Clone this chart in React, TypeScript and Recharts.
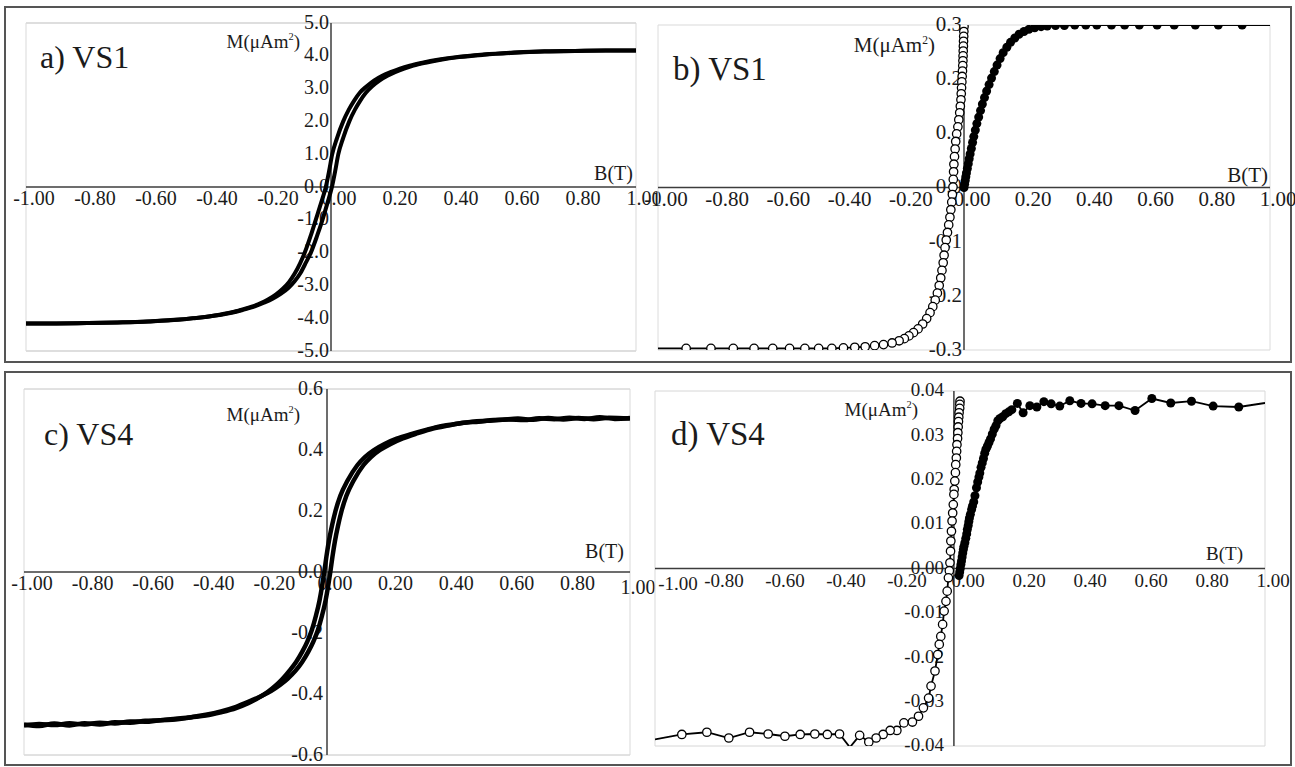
import React from "react";
import { ComposedChart, Scatter, XAxis, YAxis, CartesianGrid, ReferenceLine, ReferenceDot } from "recharts";

type P = [number, number];

const FONT = '"Liberation Serif", "Times New Roman", serif';
const INK = "#1b1b1b";
const AXIS = "#3c3c3c";

const xTicks = [-1, -0.8, -0.6, -0.4, -0.2, 0, 0.2, 0.4, 0.6, 0.8, 1];
const aTicks = [-5, -4, -3, -2, -1, 0, 1, 2, 3, 4, 5];
const bTicks = [-0.3, -0.2, -0.1, 0, 0.1, 0.2, 0.3];
const cTicks = [-0.6, -0.4, -0.2, 0, 0.2, 0.4, 0.6];
const dTicks = [-0.04, -0.03, -0.02, -0.01, 0, 0.01, 0.02, 0.03, 0.04];

// a) VS1 : [B (T), M (µAm²)]  ascending / descending branch
const aUp: P[] = [
  [-1.0, -4.16], [-0.9, -4.16], [-0.8, -4.15], [-0.7, -4.13], [-0.6, -4.1], [-0.5, -4.04], [-0.44, -3.99],
  [-0.38, -3.92], [-0.33, -3.84], [-0.29, -3.75], [-0.25, -3.64], [-0.22, -3.53], [-0.19, -3.4], [-0.165, -3.26],
  [-0.14, -3.08], [-0.12, -2.88], [-0.1, -2.62], [-0.082, -2.3], [-0.066, -2.0], [-0.046, -1.5], [-0.028, -1.0],
  [-0.012, -0.5], [0.003, 0.0], [0.014, 0.5], [0.024, 1.0], [0.04, 1.5], [0.06, 2.0], [0.078, 2.35], [0.095, 2.62],
  [0.115, 2.88], [0.135, 3.07], [0.16, 3.25], [0.185, 3.39], [0.21, 3.5], [0.24, 3.61], [0.27, 3.7], [0.31, 3.79],
  [0.36, 3.88], [0.42, 3.96], [0.5, 4.03], [0.6, 4.09], [0.7, 4.13], [0.8, 4.15], [0.9, 4.16], [1.0, 4.16],
];
const aDown: P[] = [
  [-1.0, -4.16], [-0.9, -4.16], [-0.8, -4.15], [-0.7, -4.13], [-0.6, -4.1], [-0.5, -4.05], [-0.45, -4.0],
  [-0.39, -3.93], [-0.34, -3.85], [-0.3, -3.76], [-0.26, -3.65], [-0.23, -3.54], [-0.205, -3.42], [-0.18, -3.27],
  [-0.158, -3.1], [-0.138, -2.9], [-0.119, -2.64], [-0.101, -2.32], [-0.086, -2.0], [-0.067, -1.5], [-0.05, -1.0],
  [-0.033, -0.5], [-0.017, 0.0], [-0.006, 0.5], [0.004, 1.0], [0.02, 1.5], [0.04, 2.0], [0.058, 2.35], [0.075, 2.62],
  [0.095, 2.88], [0.117, 3.07], [0.142, 3.25], [0.168, 3.39], [0.195, 3.5], [0.226, 3.61], [0.258, 3.7], [0.3, 3.79],
  [0.35, 3.88], [0.41, 3.96], [0.5, 4.04], [0.6, 4.1], [0.7, 4.14], [0.8, 4.15], [0.9, 4.16], [1.0, 4.16],
];

// b) VS1 : filled markers (B >= 0) and open markers (B <= 0)
const bFilled: P[] = [
  [0.0, 0.0], [0.002, 0.006], [0.004, 0.013], [0.006, 0.02], [0.008, 0.027], [0.011, 0.035], [0.014, 0.044],
  [0.017, 0.053], [0.02, 0.062], [0.024, 0.072], [0.028, 0.083], [0.032, 0.094], [0.037, 0.106], [0.042, 0.118],
  [0.048, 0.13], [0.054, 0.142], [0.06, 0.154], [0.067, 0.166], [0.074, 0.178], [0.082, 0.19], [0.09, 0.202],
  [0.099, 0.214], [0.108, 0.226], [0.118, 0.238], [0.128, 0.249], [0.14, 0.259], [0.152, 0.268], [0.166, 0.276],
  [0.18, 0.283], [0.196, 0.288], [0.212, 0.292], [0.231, 0.295], [0.252, 0.297], [0.272, 0.298], [0.299, 0.299],
  [0.328, 0.299], [0.362, 0.3], [0.398, 0.3], [0.434, 0.3], [0.482, 0.3], [0.525, 0.3], [0.573, 0.3],
  [0.631, 0.3], [0.687, 0.3], [0.756, 0.3], [0.831, 0.3], [0.909, 0.3],
];
const bFilledEnd: P[] = [[1.0, 0.3]];
const bOpen: P[] = [
  [0.0, 0.297], [-0.0005, 0.288], [-0.001, 0.279], [-0.0015, 0.27], [-0.002, 0.261], [-0.0025, 0.252],
  [-0.003, 0.243], [-0.0035, 0.234], [-0.004, 0.225], [-0.005, 0.215], [-0.006, 0.205], [-0.007, 0.195],
  [-0.008, 0.184], [-0.009, 0.173], [-0.01, 0.162], [-0.012, 0.15], [-0.014, 0.138], [-0.017, 0.125],
  [-0.02, 0.112], [-0.024, 0.099], [-0.027, 0.085], [-0.029, 0.071], [-0.031, 0.057], [-0.033, 0.043],
  [-0.034, 0.029], [-0.035, 0.015], [-0.036, 0.001], [-0.038, -0.013], [-0.04, -0.027], [-0.043, -0.041],
  [-0.046, -0.055], [-0.05, -0.069], [-0.054, -0.083], [-0.058, -0.097], [-0.062, -0.111], [-0.065, -0.125],
  [-0.068, -0.139], [-0.072, -0.153], [-0.076, -0.167], [-0.081, -0.181], [-0.087, -0.195], [-0.094, -0.208],
  [-0.102, -0.22], [-0.111, -0.231], [-0.122, -0.242], [-0.135, -0.252], [-0.15, -0.261], [-0.165, -0.268],
  [-0.18, -0.274], [-0.195, -0.279], [-0.212, -0.283], [-0.235, -0.287], [-0.263, -0.29], [-0.292, -0.292],
  [-0.323, -0.294], [-0.357, -0.295], [-0.394, -0.296], [-0.432, -0.297], [-0.475, -0.297], [-0.52, -0.297],
  [-0.57, -0.297], [-0.625, -0.297], [-0.686, -0.297], [-0.754, -0.297], [-0.827, -0.297], [-0.908, -0.297],
];
const bOpenEnd: P[] = [[-1.0, -0.297]];

// c) VS4 : ascending / descending branch
const cUp: P[] = [
  [-1.0, -0.5], [-0.95, -0.505], [-0.9, -0.497], [-0.85, -0.503], [-0.8, -0.496], [-0.75, -0.5], [-0.7, -0.493],
  [-0.65, -0.494], [-0.6, -0.488], [-0.55, -0.486], [-0.5, -0.481], [-0.45, -0.476], [-0.4, -0.468], [-0.35, -0.457],
  [-0.3, -0.442], [-0.26, -0.426], [-0.22, -0.408], [-0.185, -0.39], [-0.155, -0.37], [-0.13, -0.35],
  [-0.105, -0.325], [-0.082, -0.295], [-0.062, -0.262], [-0.045, -0.228], [-0.03, -0.19], [-0.017, -0.145],
  [-0.005, -0.095], [0.004, -0.045], [0.011, 0.0], [0.018, 0.05], [0.026, 0.1], [0.036, 0.15], [0.048, 0.2],
  [0.064, 0.25], [0.088, 0.3], [0.12, 0.35], [0.145, 0.377], [0.175, 0.4], [0.21, 0.42], [0.25, 0.438],
  [0.3, 0.455], [0.35, 0.47], [0.4, 0.48], [0.45, 0.489], [0.5, 0.493], [0.55, 0.498], [0.6, 0.5],
  [0.65, 0.498], [0.7, 0.504], [0.75, 0.501], [0.8, 0.506], [0.85, 0.502], [0.9, 0.507], [0.95, 0.502], [1.0, 0.505],
];
const cDown: P[] = [
  [-1.0, -0.503], [-0.95, -0.498], [-0.9, -0.502], [-0.85, -0.496], [-0.8, -0.5], [-0.75, -0.494], [-0.7, -0.497],
  [-0.65, -0.49], [-0.6, -0.491], [-0.55, -0.486], [-0.5, -0.484], [-0.45, -0.477], [-0.4, -0.471], [-0.35, -0.46],
  [-0.3, -0.446], [-0.26, -0.43], [-0.225, -0.412], [-0.195, -0.393], [-0.17, -0.373], [-0.148, -0.352],
  [-0.125, -0.325], [-0.102, -0.295], [-0.082, -0.262], [-0.065, -0.228], [-0.05, -0.19], [-0.037, -0.145],
  [-0.025, -0.095], [-0.016, -0.045], [-0.009, 0.0], [-0.002, 0.05], [0.006, 0.1], [0.016, 0.15], [0.028, 0.2],
  [0.044, 0.25], [0.068, 0.3], [0.1, 0.35], [0.125, 0.377], [0.155, 0.4], [0.19, 0.42], [0.23, 0.437],
  [0.28, 0.453], [0.33, 0.467], [0.38, 0.479], [0.43, 0.486], [0.48, 0.493], [0.53, 0.496], [0.58, 0.499],
  [0.63, 0.503], [0.68, 0.499], [0.73, 0.505], [0.78, 0.5], [0.83, 0.505], [0.88, 0.501], [0.93, 0.506], [1.0, 0.503],
];

// d) VS4 : filled markers and open markers
const dFilled: P[] = [
  [-0.003, -0.0016], [-0.001, -0.0008], [0.001, 0.0], [0.003, 0.0009], [0.005, 0.0017], [0.007, 0.0026],
  [0.009, 0.0035], [0.011, 0.0043], [0.013, 0.005], [0.016, 0.0058], [0.019, 0.0068], [0.022, 0.0078],
  [0.024, 0.0088], [0.027, 0.0097], [0.029, 0.0106], [0.031, 0.0114], [0.034, 0.0122], [0.038, 0.0133],
  [0.041, 0.0141], [0.045, 0.015], [0.049, 0.0164], [0.054, 0.0182], [0.058, 0.0195], [0.062, 0.0206],
  [0.065, 0.0215], [0.069, 0.0228], [0.073, 0.0238], [0.077, 0.0248], [0.081, 0.026], [0.085, 0.0269],
  [0.09, 0.0276], [0.095, 0.0284], [0.1, 0.0292], [0.106, 0.0303], [0.112, 0.0314], [0.118, 0.0322],
  [0.124, 0.0333], [0.131, 0.0338], [0.14, 0.0342], [0.15, 0.0349], [0.16, 0.0353], [0.17, 0.0358],
  [0.188, 0.0372], [0.207, 0.0351], [0.229, 0.0367], [0.252, 0.0364], [0.275, 0.0376], [0.299, 0.0371],
  [0.327, 0.0366], [0.36, 0.0378], [0.397, 0.0372], [0.433, 0.0371], [0.476, 0.0367], [0.521, 0.0367],
  [0.574, 0.0356], [0.629, 0.0383], [0.691, 0.0373], [0.759, 0.0377], [0.83, 0.0366], [0.914, 0.0364],
];
const dFilledEnd: P[] = [[1.0, 0.0373]];
const dOpen: P[] = [
  [0.0, 0.0377], [-0.0005, 0.037], [-0.001, 0.0361], [-0.003, 0.0351], [-0.004, 0.0341], [-0.005, 0.0331],
  [-0.006, 0.0319], [-0.007, 0.0306], [-0.008, 0.0293], [-0.01, 0.0279], [-0.011, 0.0264], [-0.012, 0.0249],
  [-0.014, 0.0234], [-0.015, 0.0216], [-0.017, 0.0197], [-0.019, 0.0178], [-0.02, 0.0167], [-0.022, 0.0144],
  [-0.024, 0.0125], [-0.026, 0.0107], [-0.028, 0.0084], [-0.03, 0.0062], [-0.031, 0.0039], [-0.033, 0.0013],
  [-0.035, -0.0005], [-0.038, -0.0021], [-0.042, -0.0051], [-0.046, -0.0074], [-0.052, -0.0096],
  [-0.057, -0.0126], [-0.063, -0.0153], [-0.068, -0.0171], [-0.073, -0.0194], [-0.082, -0.0231],
  [-0.095, -0.0265], [-0.103, -0.0292], [-0.12, -0.0314], [-0.136, -0.0333], [-0.156, -0.0346],
  [-0.184, -0.0348], [-0.207, -0.0365], [-0.229, -0.0365], [-0.252, -0.0374], [-0.275, -0.0382],
  [-0.299, -0.0391], [-0.329, -0.0376], [-0.395, -0.0373], [-0.435, -0.0374], [-0.476, -0.0373],
  [-0.524, -0.0374], [-0.574, -0.0378], [-0.629, -0.0373], [-0.69, -0.0369], [-0.758, -0.0382],
  [-0.83, -0.0369], [-0.912, -0.0374],
];
const dOpenLineOnly: P[] = [[-0.361, -0.0403], [-1.0, -0.0385]];

const pts = (a: P[]) => a.map(([b, m]) => ({ b, m }));
const lineOf = (marks: P[], extra: P[]) => pts([...marks, ...extra].sort((p, q) => p[0] - q[0]));

const filled = (r: number) => (p: any) => <circle cx={p.cx} cy={p.cy} r={r} fill="#000" />;
const open = (r: number) => (p: any) => <circle cx={p.cx} cy={p.cy} r={r} fill="#fff" stroke="#000" strokeWidth={1.3} />;
const none = () => <g />;

const PAD = 45;

function Panel(props: any) {
  const { left, top, width, height, yDomain, yTicks, yDigits, fs, yAxisAt = 0, yGap, hGrid, vGrid, nudge = {}, children } = props;
  return (
    <div style={{ position: "absolute", left: left - PAD, top: top - PAD }}>
      <ComposedChart width={width + 2 * PAD} height={height + 2 * PAD} margin={{ top: PAD, right: PAD, bottom: PAD, left: PAD }}>
        <CartesianGrid vertical={false} stroke={hGrid} />
        <CartesianGrid horizontal={false} stroke={vGrid} />
        <XAxis type="number" dataKey="b" domain={[-1, 1]} ticks={xTicks} height={0} tick={false} tickLine={false} axisLine={false} allowDataOverflow />
        <YAxis type="number" dataKey="m" domain={yDomain} ticks={yTicks} width={0} tick={false} tickLine={false} axisLine={false} allowDataOverflow />
        <ReferenceLine y={0} stroke={AXIS} strokeWidth={1.5} />
        <ReferenceLine x={yAxisAt} stroke={AXIS} strokeWidth={1.5} />
        {xTicks.map((v) => {
          const n = nudge[String(v)] || [0, 0];
          return (
            <ReferenceDot key={"x" + v} x={v} y={0} r={0} ifOverflow="visible"
              shape={(p: any) => (
                <text x={p.cx + 8 + n[0]} y={p.cy + 18 + n[1]} textAnchor="middle" fontFamily={FONT} fontSize={fs} fill={INK}>
                  {v.toFixed(2)}
                </text>
              )} />
          );
        })}
        {yTicks.map((v: number) => (
          <ReferenceDot key={"y" + v} x={yAxisAt} y={v} r={0} ifOverflow="visible"
            shape={(p: any) => (
              <text x={p.cx - yGap} y={p.cy + fs * 0.33 - 1} textAnchor="end" fontFamily={FONT} fontSize={fs} fill={INK}>
                {v.toFixed(yDigits)}
              </text>
            )} />
        ))}
        {children}
      </ComposedChart>
    </div>
  );
}

function MLabel({ x, y, fs }: { x: number; y: number; fs: number }) {
  return (
    <text x={x} y={y} textAnchor="end" fontFamily={FONT} fontSize={fs} fill={INK}>
      M(μAm<tspan dy={-fs * 0.4} fontSize={fs * 0.55}>2</tspan><tspan dy={fs * 0.4}>)</tspan>
    </text>
  );
}

export default function App() {
  return (
    <div style={{ position: "absolute", left: 0, top: 0, width: 1295, height: 767, background: "#fff", overflow: "hidden" }}>
      <svg width={1295} height={767} style={{ position: "absolute", left: 0, top: 0 }}>
        <rect x={5} y={7} width={1286} height={355} fill="none" stroke="#555" strokeWidth={2} />
        <rect x={5} y={372} width={1286} height={393} fill="none" stroke="#555" strokeWidth={2} />
      </svg>

      <Panel left={26} top={23} width={610} height={328} yDomain={[-5, 5]} yTicks={aTicks} yDigits={1} fs={20} yGap={2} hGrid="#bdbdbd" vGrid="#d9d9d9">
        <Scatter data={pts(aDown)} fill="#000" line={{ stroke: "#000", strokeWidth: 4 }} lineJointType="monotoneX" shape={none} isAnimationActive={false} />
        <Scatter data={pts(aUp)} fill="#000" line={{ stroke: "#000", strokeWidth: 4 }} lineJointType="monotoneX" shape={none} isAnimationActive={false} />
      </Panel>

      <Panel left={658} top={25} width={612} height={325} yDomain={[-0.3, 0.3]} yTicks={bTicks} yDigits={1} fs={21} yGap={2} hGrid="#d9d9d9" vGrid="#dcdcdc">
        <Scatter data={lineOf(bOpen, bOpenEnd)} fill="#000" line={{ stroke: "#000", strokeWidth: 1.8 }} shape={none} isAnimationActive={false} />
        <Scatter data={lineOf(bFilled, bFilledEnd)} fill="#000" line={{ stroke: "#000", strokeWidth: 1.8 }} shape={none} isAnimationActive={false} />
        <Scatter data={pts(bOpen)} fill="#fff" shape={open(4.2)} isAnimationActive={false} />
        <Scatter data={pts(bFilled)} fill="#000" shape={filled(4.5)} isAnimationActive={false} />
      </Panel>

      <Panel left={24} top={389} width={606} height={366} yDomain={[-0.6, 0.6]} yTicks={cTicks} yDigits={1} fs={20} yGap={4} hGrid="#c4c4c4" vGrid="#d9d9d9" nudge={{ "1": [0, 4] }}>
        <Scatter data={pts(cDown)} fill="#000" line={{ stroke: "#000", strokeWidth: 4.5 }} lineJointType="monotoneX" shape={none} isAnimationActive={false} />
        <Scatter data={pts(cUp)} fill="#000" line={{ stroke: "#000", strokeWidth: 4.5 }} lineJointType="monotoneX" shape={none} isAnimationActive={false} />
      </Panel>

      <Panel left={655} top={391} width={610} height={355} yDomain={[-0.04, 0.04]} yTicks={dTicks} yDigits={2} fs={19} yAxisAt={-0.02} yGap={10} hGrid="#d6d6d6" vGrid="#d9d9d9" nudge={{ "-1": [15, 3] }}>
        <Scatter data={lineOf(dOpen, dOpenLineOnly)} fill="#000" line={{ stroke: "#000", strokeWidth: 1.8 }} shape={none} isAnimationActive={false} />
        <Scatter data={lineOf(dFilled, dFilledEnd)} fill="#000" line={{ stroke: "#000", strokeWidth: 1.8 }} shape={none} isAnimationActive={false} />
        <Scatter data={pts(dOpen)} fill="#fff" shape={open(4.2)} isAnimationActive={false} />
        <Scatter data={pts(dFilled)} fill="#000" shape={filled(4.5)} isAnimationActive={false} />
      </Panel>

      <svg width={1295} height={767} style={{ position: "absolute", left: 0, top: 0, pointerEvents: "none" }}>
        <text x={40} y={68} fontFamily={FONT} fontSize={32} fill={INK}>a) VS1</text>
        <text x={673} y={80} fontFamily={FONT} fontSize={33} fill={INK}>b) VS1</text>
        <text x={44} y={445} fontFamily={FONT} fontSize={32} fill={INK}>c) VS4</text>
        <text x={671} y={445} fontFamily={FONT} fontSize={33} fill={INK}>d) VS4</text>
        <MLabel x={300} y={48} fs={19} />
        <MLabel x={935} y={52} fs={21} />
        <MLabel x={300} y={421} fs={19} />
        <MLabel x={918} y={416} fs={19} />
        <text x={633} y={180} textAnchor="end" fontFamily={FONT} fontSize={20} fill={INK}>B(T)</text>
        <text x={1268} y={182} textAnchor="end" fontFamily={FONT} fontSize={21} fill={INK}>B(T)</text>
        <text x={624} y={558} textAnchor="end" fontFamily={FONT} fontSize={20} fill={INK}>B(T)</text>
        <text x={1243} y={560} textAnchor="end" fontFamily={FONT} fontSize={19} fill={INK}>B(T)</text>
      </svg>
    </div>
  );
}
